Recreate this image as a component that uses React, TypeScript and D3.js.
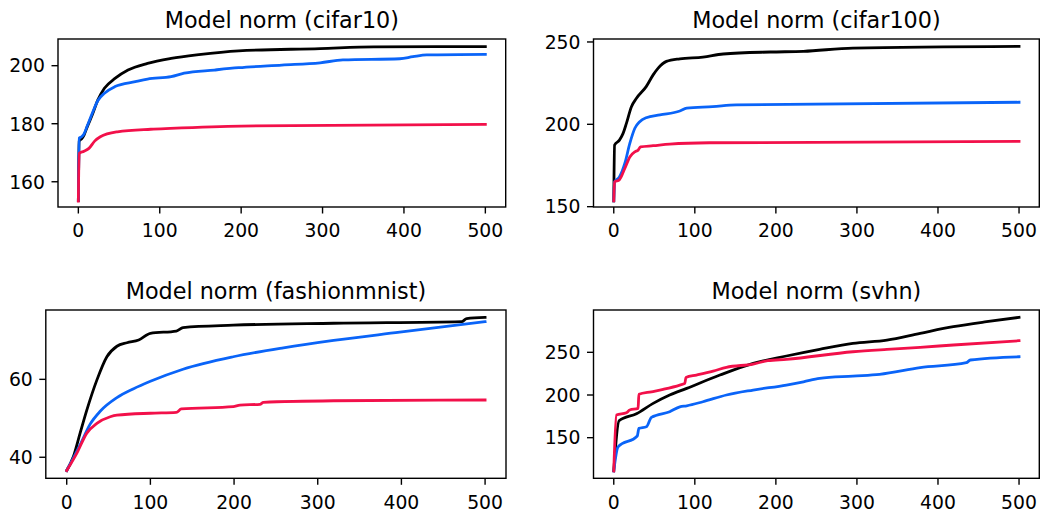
import React from 'react';
import * as d3 from 'd3';

// epoch / norm pairs
const cifar10Black = [[0,153.5],[1,174],[4,174.8],[7,176.1],[11,179],[17,183],[24,188.2],[32,192.2],[45,195.6],[61,198.5],[85,200.8],[114,202.5],[148,203.8],[197,205.1],[297,205.9],[363,206.5],[500,206.6]];
const cifar10Blue = [[0,153.5],[1,175],[4,175.5],[7,176.5],[11,179.3],[17,183.5],[24,188],[32,190.5],[45,192.8],[70,194.5],[85,195.4],[114,196.2],[130,197.4],[167,198.5],[197,199.3],[250,200.2],[297,201],[325,202],[395,202.4],[411,203.1],[428,203.7],[500,203.9]];
const cifar10Red = [[0,153.3],[1,169.8],[7,170.5],[13,171.5],[20,174],[27,175.5],[48,177.2],[89,178.1],[113,178.4],[200,179.2],[500,179.8]];

const cifar100Black = [[0,153.5],[1,187.4],[7,190.4],[11.5,194.5],[15.6,200.6],[21.8,210.7],[28,215.8],[40,222.9],[48.6,230],[54.8,234.1],[65,238.2],[81.5,239.8],[110,240.8],[135,242.7],[193,243.9],[234,244.3],[295,246.3],[500,247.3]];
const cifar100Blue = [[0,153.5],[1,165],[7,168],[13.6,176.2],[19.8,188.4],[26,197.6],[32,201.6],[40,204],[57,205.7],[81.5,208.1],[90,209.8],[122,210.7],[151,211.8],[500,213.4]];
const cifar100Red = [[0,153.5],[1,165],[7,166.4],[13.6,173.2],[19.8,180.2],[26,183.3],[30,184.3],[33,186.3],[48.6,187],[69,188],[118,188.8],[500,189.6]];

const fashionBlack = [[0,36.6],[8,40.2],[16,46.2],[24,52.1],[36,59.8],[48,65.8],[60,68.5],[72,69.4],[86,70.1],[100,71.8],[131,72.4],[139,73.3],[199,73.9],[319,74.4],[472,74.8],[478,75.6],[500,75.9]];
const fashionBlue = [[0,36.6],[16,43.2],[28,48.5],[40,51.8],[60,55.3],[80,57.6],[100,59.5],[139,62.6],[199,65.8],[259,68.1],[319,70],[398,72.1],[500,74.8]];
const fashionRed = [[0,36.6],[12,41],[24,46.2],[36,48.7],[52,50.4],[60,50.8],[100,51.3],[131,51.5],[137,52.4],[199,53],[207,53.4],[231,53.6],[235,54.1],[319,54.5],[500,54.7]];

const svhnBlack = [[0,111.2],[6.5,169.8],[28,178],[48.6,190.2],[69,200],[90,207.8],[131,223.4],[172,237.1],[213,245.7],[254,253.5],[295,260.5],[337,264.4],[378,272.3],[419,280],[460,285.9],[500,291]];
const svhnBlue = [[0,111],[5.3,139.3],[29,152],[31,160.9],[40.3,162.8],[46.5,173.8],[69,180.4],[81.5,186.2],[90,187.4],[110,192.1],[139,200],[172,205.8],[213,211.7],[234,215.5],[254,219.5],[295,222.2],[328,224.2],[378,232],[435,237.8],[440,241],[500,244.8]];
const svhnRed = [[0,111],[3.3,176.5],[15.6,179.2],[19.7,182.4],[30,184.3],[31,200.8],[46.5,203.8],[60.9,206.6],[81.5,211.6],[87.7,213.6],[89,220.6],[102,223.4],[122.6,228.1],[139,232.4],[172,236.3],[190,240.2],[213,241.8],[295,250.7],[337,253.5],[378,255.9],[419,258.6],[500,263.6]];

const xTicks = [0, 100, 200, 300, 400, 500];
const colors = ['#000000', '#0a64f8', '#f2104a'];

const panels = [
  { title: 'Model norm (cifar10)', box: [58, 505.7, 39, 207], yDomain: [151.3, 209.2], yTicks: [160, 180, 200], series: [cifar10Black, cifar10Blue, cifar10Red] },
  { title: 'Model norm (cifar100)', box: [593.5, 1039.3, 39, 207], yDomain: [149.8, 251.8], yTicks: [150, 200, 250], series: [cifar100Black, cifar100Blue, cifar100Red] },
  { title: 'Model norm (fashionmnist)', box: [45.8, 506, 310, 478.3], yDomain: [34.6, 77.8], yTicks: [40, 60], series: [fashionBlack, fashionBlue, fashionRed] },
  { title: 'Model norm (svhn)', box: [593.5, 1039.3, 310, 478.3], yDomain: [102.4, 299.6], yTicks: [150, 200, 250], series: [svhnBlack, svhnBlue, svhnRed] },
];

const font = 'DejaVu Sans, sans-serif';
const tickSize = 18.8;
const titleSize = 22.3;

const Panel = ({ p }) => {
  const [left, right, top, bottom] = p.box;
  const x = d3.scaleLinear().domain([-25, 525]).range([left, right]);
  const y = d3.scaleLinear().domain(p.yDomain).range([bottom, top]);
  const line = d3
    .line()
    .x((d) => x(d[0]))
    .y((d) => y(d[1]))
    .curve(d3.curveMonotoneX);
  const clipId = 'clip-' + p.title.replace(/\W/g, '');

  return (
    <g>
      <text x={(left + right) / 2} y={top - 11} textAnchor="middle" fontSize={titleSize} fontFamily={font}>
        {p.title}
      </text>
      <defs>
        <clipPath id={clipId}>
          <rect x={left} y={top} width={right - left} height={bottom - top} />
        </clipPath>
      </defs>
      <g clipPath={`url(#${clipId})`}>
        {p.series.map((s, i) => (
          <path key={i} d={line(s)} fill="none" stroke={colors[i]} strokeWidth={2.8} strokeLinejoin="round" strokeLinecap="square" />
        ))}
      </g>
      <rect x={left} y={top} width={right - left} height={bottom - top} fill="none" stroke="#000" strokeWidth={1.4} />
      {xTicks.map((t) => (
        <g key={t}>
          <line x1={x(t)} x2={x(t)} y1={bottom} y2={bottom + 6.5} stroke="#000" strokeWidth={1.4} />
          <text x={x(t)} y={bottom + 30.3} textAnchor="middle" fontSize={tickSize} fontFamily={font}>
            {t}
          </text>
        </g>
      ))}
      {p.yTicks.map((t) => (
        <g key={t}>
          <line x1={left - 6.5} x2={left} y1={y(t)} y2={y(t)} stroke="#000" strokeWidth={1.4} />
          <text x={left - 13} y={y(t) + 6.8} textAnchor="end" fontSize={tickSize} fontFamily={font}>
            {t}
          </text>
        </g>
      ))}
    </g>
  );
};

export default function App() {
  return (
    <svg width={1044} height={512} style={{ position: 'absolute', left: 0, top: 0, background: '#fff' }}>
      {panels.map((p) => (
        <Panel key={p.title} p={p} />
      ))}
    </svg>
  );
}
